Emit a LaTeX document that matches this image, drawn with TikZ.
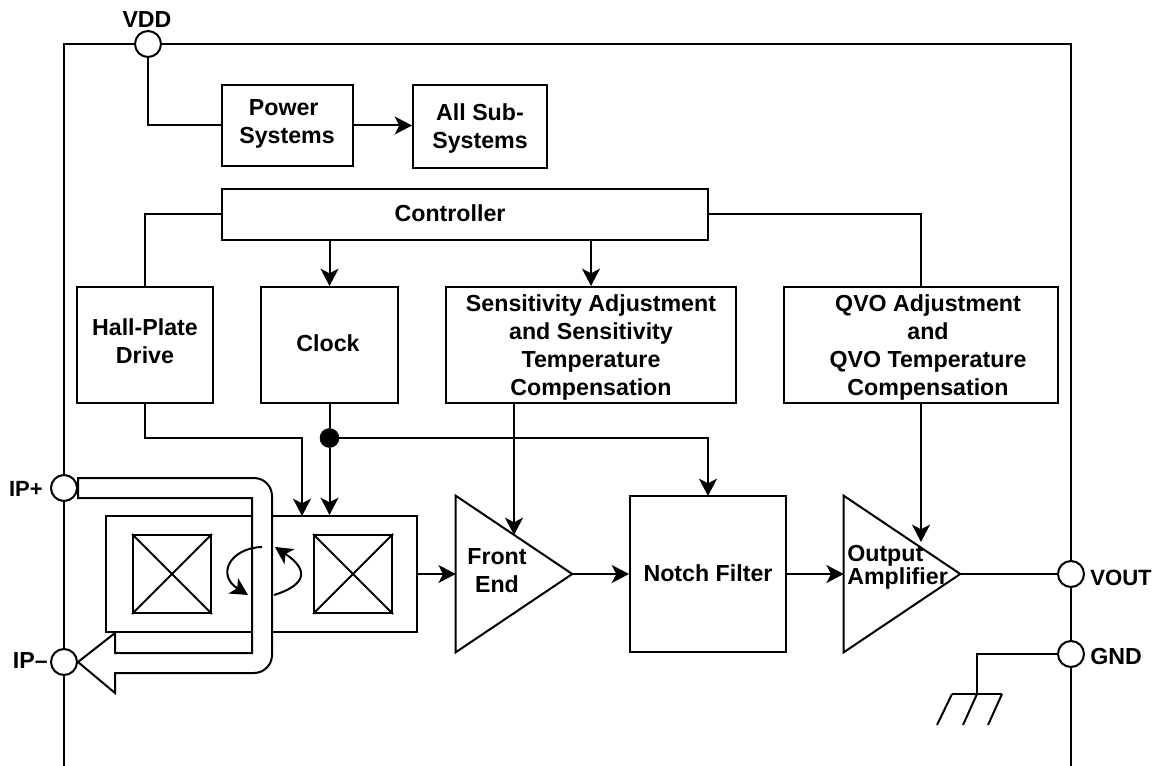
\documentclass[tikz,border=0pt]{standalone}
\usepackage{fontspec}
\setmainfont{Liberation Sans}
\usetikzlibrary{arrows.meta,calc}
\def\pxu{0.75pt}
\tikzset{
  every node/.style={font=\fontsize{17.4}{21}\selectfont\bfseries, align=center},
  wire/.style={line width=1.5pt, line join=miter},
  tipst/.style={-{Stealth[length=13pt,width=13.5pt,inset=3.5pt]}},
  arr/.style={wire, tipst},
  blk/.style={draw, line width=1.5pt, fill=white, inner sep=0pt},
  pin/.style={circle, draw, line width=1.5pt, fill=white, minimum size=26*\pxu, inner sep=0pt},
  lbl/.style={inner sep=0pt},
  ghost/.style={inner sep=0pt},
  cross/.style={draw, line width=1.5pt, inner sep=0pt, minimum size=78*\pxu},
}
\newcommand{\blkat}[5]{% name, x1, y1, x2, y2
  \node[blk, minimum width={(#4-#2)*\pxu}, minimum height={(#5-#3)*\pxu}] (#1) at ({(#2+#4)/2},{(#3+#5)/2}) {};}
\begin{document}
\begin{tikzpicture}[x=0.75pt,y=-0.75pt]
\useasboundingbox (0,0) rectangle (1159,766);
% frame
\coordinate (fbl) at (64,766);
\coordinate (ftl) at (64,44);
\coordinate (ftr) at (1071,44);
\coordinate (fbr) at (1071,766);
\draw[wire] (fbl) -- (ftl) -- (ftr) -- (fbr);
% blocks
\blkat{power}{222}{85}{353}{166}
\blkat{allsub}{413}{85}{547}{168}
\blkat{ctrl}{222}{189}{708}{240}
\blkat{hall}{77}{287}{213}{403}
\blkat{clock}{261}{287}{398}{403}
\blkat{sens}{446}{287}{736}{403}
\blkat{qvo}{784}{287}{1058}{403}
\blkat{notch}{630}{496}{786}{652}
\blkat{sensor}{106}{516}{417}{632}
\node[lbl] (tpower) at (287,124) {Power\hspace*{5pt}\\Systems};
\node[lbl] (tallsub) at (480,129) {All Sub-\\Systems};
\node[lbl] (tctrl) at (450,213) {Controller};
\node[lbl] (thall) at (145,341) {Hall-Plate\\Drive};
\node[lbl] (tclock) at (328,343) {Clock};
\node[lbl] (tsens) at (591,348) {Sensitivity Adjustment\\and Sensitivity\hspace*{6pt}\\Temperature\\Compensation};
\node[lbl] (tqvo) at (928,348) {QVO Adjustment\\and\\QVO Temperature\\Compensation};
\node[lbl] (tnotch) at (708,573) {Notch Filter};
% pins
\node[pin] (vdd) at (148,44) {};
\node[pin] (ipp) at (64,488) {};
\node[pin] (ipm) at (64,662) {};
\node[pin] (vout) at (1071,574) {};
\node[pin] (gnd) at (1071,654) {};
\node[lbl] (lvdd) at (147,20) {VDD};
\node[lbl,anchor=east,font=\fontsize{16.5}{21}\selectfont\bfseries] (lipp) at (43,489) {IP+};
\node[lbl,anchor=east] (lipm) at (48,661) {IP–};
\node[lbl,anchor=west,font=\fontsize{16.6}{21}\selectfont\bfseries] (lvout) at (1090,578) {VOUT};
\node[lbl,anchor=west] (lgnd) at (1090,657) {GND};
% hall squares
\node[cross] (sq1) at (172,574) {};
\node[cross] (sq2) at (353,574) {};
\draw[line width=1.5pt] (sq1.north west) -- (sq1.south east) (sq1.north east) -- (sq1.south west);
\draw[line width=1.5pt] (sq2.north west) -- (sq2.south east) (sq2.north east) -- (sq2.south west);
% current arrow
\coordinate (ctip) at (78,662);
\filldraw[line width=1.5pt, fill=white, line join=miter]
  (78,478) [rounded corners=13.5pt] -- (272,478) -- (272,673) [sharp corners] -- (115,673) -- (115,693) -- (ctip) -- (115,633)
  -- (115,653) -- (252,653) -- (252,498) -- (78,498) -- cycle;
\draw[arr] (262,547) .. controls (230,548) and (216,575) .. (248,595);
\draw[arr] (274,595) .. controls (300,587) and (314,573) .. (275,547);
% triangles
\node[ghost, minimum width=116*\pxu, minimum height=156*\pxu] (fe) at (514,574) {};
\node[ghost, minimum width=116*\pxu, minimum height=156*\pxu] (oa) at (902,574) {};
\draw[line width=1.5pt, fill=white, line join=miter] (fe.north west) -- (fe.east) -- (fe.south west) -- cycle;
\draw[line width=1.5pt, fill=white, line join=miter] (oa.north west) -- (oa.east) -- (oa.south west) -- cycle;
\node[lbl] (tfe) at (497,571) {Front\\End};
\node[lbl,anchor=west,align=left,font=\fontsize{17.4}{17.5}\selectfont\bfseries] (toa) at (847,567) {Output\\Amplifier};
% connectors
\coordinate (sensout) at ($(sens.south)+(-77,0)$);
\coordinate (feIn) at (514,535);
\coordinate (oaIn) at (921,542);
\coordinate (notchIn) at (708,496);
\coordinate (sensorIn) at (302,516);
\node[circle, fill=black, draw, inner sep=0pt, minimum size=19*\pxu] (dot) at (329.5,438) {};
\draw[wire] (vdd) -- (vdd |- power.west) -- (power.west);
\draw[arr] (power.east) -- (power.east -| allsub.west);
\draw[wire] (ctrl.west) -- (hall.north |- ctrl.west) -- (hall.north);
\draw[arr] (clock.north |- ctrl.south) -- (clock.north);
\draw[arr] (sens.north |- ctrl.south) -- (sens.north);
\draw[wire] (ctrl.east) -- (qvo.north |- ctrl.east) -- (qvo.north);
\draw[arr] (hall.south) -- (hall.south |- dot) -- (sensorIn |- dot) -- (sensorIn);
\draw[wire] (clock.south) -- (dot);
\draw[arr] (dot) -- (dot |- sensor.north);
\draw[arr] (dot) -- (notchIn |- dot) -- (notchIn);
\draw[arr] (sensout) -- (feIn);
\draw[arr] (qvo.south) -- (oaIn);
\draw[arr] (sensor.east |- fe.west) -- (fe.west);
\draw[arr] (fe.east) -- (notch.west |- fe.east);
\draw[arr] (notch.east |- oa.west) -- (oa.west);
\draw[wire] (oa.east) -- (vout.west);
% ground
\coordinate (g0) at (977,694);
\coordinate (gl) at (952,694);
\coordinate (gr) at (1002,694);
\draw[wire] (gnd.west) -- (gnd.west -| g0) -- (g0);
\draw[wire] (gl) -- (gr);
\draw[wire] (gl) -- (937,725);
\draw[wire] (g0) -- (963,725);
\draw[wire] (gr) -- (988,725);
\end{tikzpicture}
\end{document}
